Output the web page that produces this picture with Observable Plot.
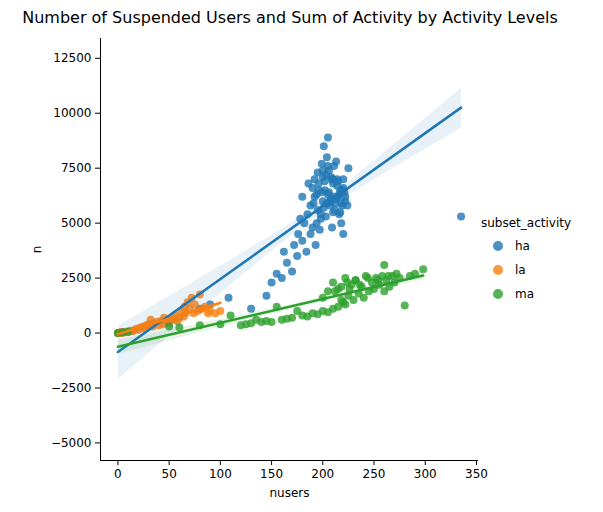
<!DOCTYPE html>
<html><head><meta charset="utf-8">
<script src="https://cdn.jsdelivr.net/npm/d3@7"></script>
<script src="https://cdn.jsdelivr.net/npm/@observablehq/plot@0.6"></script>
<style>
body{margin:0;font-family:"DejaVu Sans",sans-serif;background:#fff}
#wrap{position:relative;width:603px;height:512px}
#title{position:absolute;left:0;top:8px;width:580px;text-align:center;font-size:16px;color:#000}
#chart{position:absolute;left:0;top:33px}
#legend{position:absolute;left:481px;top:216px;font-size:12px}
.item{display:flex;align-items:center;height:24px;margin-left:12px}
.dot{width:10px;height:10px;border-radius:50%;margin-right:12px;opacity:.8}
</style></head>
<body><div id="wrap"><div id="title">Number of Suspended Users and Sum of Activity by Activity Levels</div><div id="chart"></div><div id="legend"></div></div>
<script>
const groups = ["ha", "la", "ma"]
const colors = ["#1f77b4", "#ff7f0e", "#2ca02c"]

// ha: high activity
const haX = [0,3,80,90,108,130,145,150,155,160,162,165,170,172,175,176,178,180,180,182,184,185,186,188,190,190,191,192,193,194,195,195,196,197,198,199,200,200,201,202,203,204,205,205,206,207,208,209,210,210,211,212,213,214,215,216,217,218,219,220,220,222,225,
  188,192,196,198,200,202,204,206,208,210,212,214,216,218,220,222,224,194,199,203,207,211,215,219,201,205,209,213,217,221,335]
const haY = [0,20,1100,1300,1600,1100,1700,2300,2700,2500,3700,3200,2800,4000,3500,4500,5200,4200,6200,5000,3700,5400,6800,4500,4800,6600,5900,7000,4000,6300,5600,7300,6500,4700,5200,7700,6000,7400,8500,6900,5300,8000,7600,8900,6400,5800,7100,4800,5500,7000,6200,5900,7800,6700,6200,5400,6500,5000,5800,7000,4500,6000,7500,
  5800,6200,6800,5400,7100,6500,5900,7400,6100,6800,5600,7000,6300,5900,6600,6200,5800,5000,6400,7200,6000,7600,6900,6500,5700,6300,7000,6100,5500,6400,5300]

// la: low activity
const laX = [0,1,2,3,4,5,6,8,10,12,14,15,18,20,22,25,26,28,30,32,34,35,38,40,42,44,45,48,50,52,55,56,58,60,62,64,65,66,68,70,72,74,75,78,80,82,85,88,90,95,100]
const laY = [0,10,20,0,30,40,20,60,50,100,80,120,200,150,250,300,200,350,400,600,300,450,500,350,550,400,700,500,450,650,600,800,550,700,1000,750,1200,900,1400,1100,1600,900,1300,1000,1750,1100,1200,900,1000,900,1000]

// ma: medium activity
const maX = [0,5,10,50,60,80,100,110,120,125,130,135,140,145,150,155,160,165,170,175,180,185,190,195,200,200,205,205,210,210,215,215,218,220,222,222,225,228,230,232,235,238,240,242,245,248,250,252,255,258,260,260,262,265,268,270,272,275,280,285,290,298,
  212,218,224,226,232,236,244,254,264]
const maY = [0,40,60,300,250,350,400,800,350,400,450,600,500,550,500,1200,600,650,700,1000,800,750,900,850,1000,1600,950,1900,1100,2300,1200,2000,1500,1400,2500,1300,1700,2200,1500,2400,1800,2100,1600,2600,1900,2300,2000,2500,2200,2600,1900,3100,2400,2100,2600,2300,2700,2500,1250,2600,2700,2900,
  1900,2100,2300,2000,2400,2200,2500,2400,2600]

const data = [
  ...haX.map((x, i) => ({s: "ha", x, y: haY[i]})),
  ...laX.map((x, i) => ({s: "la", x, y: laY[i]})),
  ...maX.map((x, i) => ({s: "ma", x, y: maY[i]}))
]

let chart = Plot.plot({
  width: 603,
  height: 479,
  marginLeft: 100,
  marginRight: 125,
  marginTop: 5,
  marginBottom: 52,
  style: {fontSize: "12px", fontFamily: "DejaVu Sans"},
  x: {domain: [-17, 352]},
  y: {domain: [-5800, 13400]},
  color: {domain: groups, range: colors},
  marks: [
    Plot.dot(data, {x: "x", y: "y", fill: "s", r: 4, fillOpacity: 0.8}),
    Plot.linearRegressionY(data, {x: "x", y: "y", stroke: "s", fill: "s", strokeWidth: 2.5, ci: 0.95}),
    Plot.axisX({ticks: d3.range(0, 351, 50), tickFormat: d3.format("d"), label: "nusers", labelAnchor: "center", labelArrow: "none", labelOffset: 36, tickSize: 5}),
    Plot.axisY({ticks: d3.range(-5000, 12501, 2500), tickFormat: d3.format("d"), label: "n", labelAnchor: "center", labelArrow: "none", labelOffset: 68, tickSize: 5}),
    Plot.ruleX([-17]),
    Plot.ruleY([-5800])
  ]
})
document.getElementById("chart").append(chart)

const lg = d3.select("#legend")
lg.append("div").text("subset_activity").style("margin-bottom", "4px")
groups.forEach((g, i) => {
  const it = lg.append("div").attr("class", "item")
  it.append("div").attr("class", "dot").style("background", colors[i])
  it.append("span").text(g)
})
</script></body></html>
